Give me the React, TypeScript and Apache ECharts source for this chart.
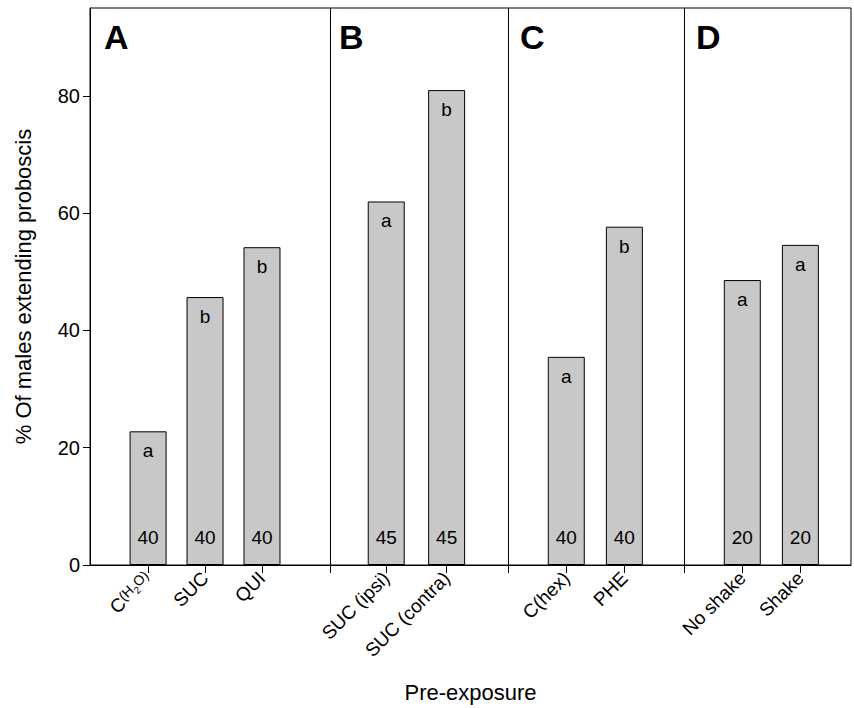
import * as echarts from 'echarts';
import { useEffect, useRef } from 'react';

// bar positions along x (slot units), values, letters, n
const positions = [1.01, 2.0, 2.99, 5.15, 6.2, 8.28, 9.29, 11.34, 12.35];
const names = ['C(H2O)', 'SUC', 'QUI', 'SUC (ipsi)', 'SUC (contra)', 'C(hex)', 'PHE', 'No shake', 'Shake'];
const values = [22.8, 45.7, 54.2, 62.0, 81.0, 35.5, 57.7, 48.6, 54.6];
const letters = ['a', 'b', 'b', 'a', 'b', 'a', 'b', 'a', 'a'];
const counts = [40, 40, 40, 45, 45, 40, 40, 20, 20];
const dividers = [4.17, 7.27, 10.33];
const panels = ['A', 'B', 'C', 'D'];
const yTicks = [0, 20, 40, 60, 80];

export default function App() {
  const ref = useRef<HTMLDivElement | null>(null);

  useEffect(() => {
    document.body.style.margin = '0';
    if (!ref.current) return;
    const chart = echarts.init(ref.current, undefined, { renderer: 'svg' });
    const font = 'Arial, "Liberation Sans", sans-serif';
    const panelX = [104, 339, 520, 696];

    chart.setOption({
      animation: false,
      textStyle: { fontFamily: font },
      grid: { left: 90, right: 3, top: 8, bottom: 142, show: true, borderColor: '#000', borderWidth: 1 },
      xAxis: {
        type: 'value',
        min: 0,
        max: 13.23,
        splitLine: { show: false },
        axisLine: { lineStyle: { color: '#000' } },
        axisTick: { customValues: [...positions, ...dividers], length: 8, lineStyle: { color: '#000' } },
        axisLabel: {
          customValues: positions,
          rotate: 45,
          fontSize: 19,
          color: '#000',
          margin: 10,
          formatter: (v: number) => {
            const i = positions.findIndex((p) => Math.abs(p - v) < 1e-6);
            if (i === 0) return 'C{s|(H}{sub|2}{s|O)}';
            return i >= 0 ? names[i] : '';
          },
          rich: {
            s: { fontSize: 14, color: '#000', padding: [0, 0, 6, 0] },
            sub: { fontSize: 10, color: '#000', padding: [6, 0, 0, 0] }
          }
        },
        name: 'Pre-exposure',
        nameLocation: 'middle',
        nameGap: 116,
        nameTextStyle: { fontSize: 22, color: '#000' }
      },
      yAxis: {
        type: 'value',
        min: 0,
        max: 95,
        interval: 20,
        splitLine: { show: false },
        axisLine: { show: true, lineStyle: { color: '#000' } },
        axisTick: { show: true, customValues: yTicks, length: 7, lineStyle: { color: '#000' } },
        axisLabel: { customValues: yTicks, fontSize: 20, color: '#000', margin: 10 },
        name: '% Of males extending proboscis',
        nameLocation: 'middle',
        nameGap: 56,
        nameTextStyle: { fontSize: 22, color: '#000' }
      },
      series: [
        {
          type: 'bar',
          barWidth: 37,
          data: positions.map((p, i) => [p, values[i]]),
          itemStyle: { color: '#c8c8c8', borderColor: '#000', borderWidth: 1 },
          label: {
            show: true,
            position: 'insideTop',
            distance: 10,
            fontSize: 19,
            color: '#000',
            formatter: (p: any) => letters[p.dataIndex]
          },
          markLine: {
            silent: true,
            symbol: 'none',
            label: { show: false },
            lineStyle: { color: '#000', type: 'solid', width: 1 },
            data: dividers.map((d) => ({ xAxis: d }))
          }
        },
        {
          type: 'scatter',
          symbolSize: 1,
          itemStyle: { opacity: 0 },
          data: positions.map((p, i) => [p, 3.0, counts[i]]),
          label: {
            show: true,
            position: 'top',
            distance: 0,
            fontSize: 19,
            color: '#000',
            opacity: 1,
            formatter: (p: any) => String(p.data[2])
          }
        }
      ],
      graphic: panels.map((t, i) => ({
        type: 'text',
        left: panelX[i],
        top: 20,
        style: { text: t, fontSize: 34, fontWeight: 'bold', fill: '#000', fontFamily: font }
      }))
    });

    return () => chart.dispose();
  }, []);

  return <div ref={ref} style={{ width: 854, height: 708 }} />;
}
